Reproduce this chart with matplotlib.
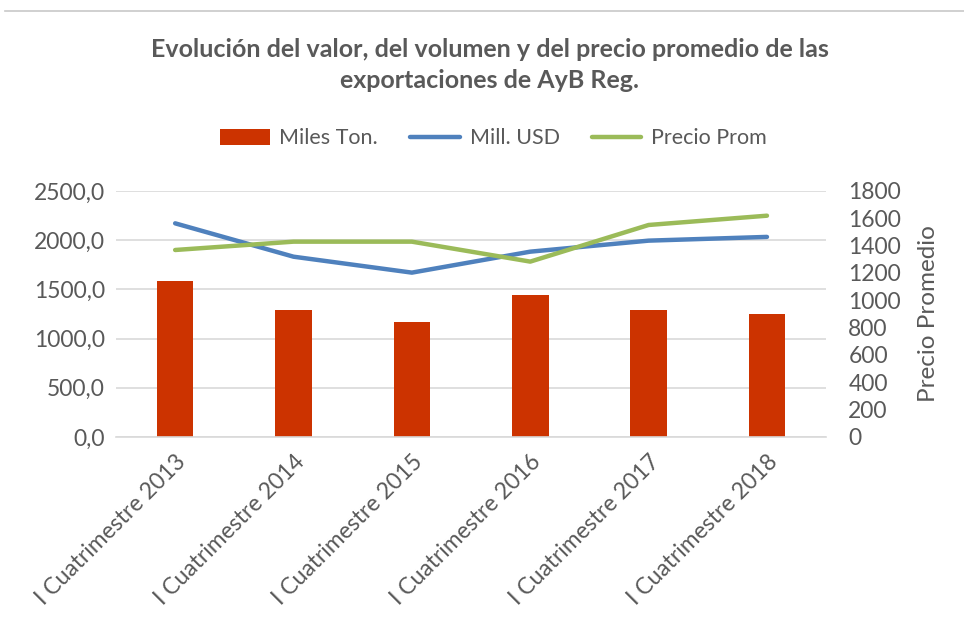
import matplotlib.pyplot as plt
from matplotlib.lines import Line2D
from matplotlib.ticker import FuncFormatter

categorias = ['I Cuatrimestre 2013', 'I Cuatrimestre 2014', 'I Cuatrimestre 2015',
              'I Cuatrimestre 2016', 'I Cuatrimestre 2017', 'I Cuatrimestre 2018']
miles_ton = [1588, 1287, 1172, 1443, 1287, 1247]
mill_usd = [2171, 1832, 1670, 1883, 1995, 2033]
precio_prom = [1368, 1429, 1429, 1283, 1551, 1619]

plt.rcParams['font.family'] = ['Lato', 'DejaVu Sans']
gris = '#595959'

fig = plt.figure(figsize=(9.64, 6.23), dpi=100)
ax = fig.add_axes([0.1203, 0.2986, 0.7367, 0.3949])
ax2 = ax.twinx()

x = list(range(len(categorias)))
barras = ax.bar(x, miles_ton, width=0.31, color='#CC3300', label='Miles Ton.', zorder=2)
l_usd, = ax.plot(x, mill_usd, color='#4F81BD', lw=3.2, label='Mill. USD', zorder=3,
                 solid_capstyle='round')
l_precio, = ax2.plot(x, precio_prom, color='#9BBB59', lw=3.2, label='Precio Prom', zorder=3,
                     solid_capstyle='round')

ax.set_xlim(-0.5, 5.5)
ax.set_ylim(0, 2500)
ax.set_yticks([0, 500, 1000, 1500, 2000, 2500])
ax.yaxis.set_major_formatter(FuncFormatter(lambda v, p: f'{v:.1f}'.replace('.', ',')))
ax2.set_ylim(0, 1800)
ax2.set_yticks(range(0, 1801, 200))

ax.grid(axis='y', color='#d9d9d9', lw=1.2, zorder=0)
ax.set_axisbelow(True)
for a in (ax, ax2):
    for s in a.spines.values():
        s.set_visible(False)
    a.tick_params(length=0, colors=gris, labelsize=16.5)
ax.spines['bottom'].set_visible(True)
ax.spines['bottom'].set_color('#d9d9d9')
ax.spines['bottom'].set_linewidth(1.2)

ax.set_xticks(x)
ax.set_xticklabels(categorias, rotation=45, ha='right', rotation_mode='anchor',
                   fontsize=16.5, color=gris)
ax.tick_params(axis='x', pad=10)
ax.tick_params(axis='y', pad=8)
ax2.tick_params(axis='y', pad=16)
ax2.set_ylabel('Precio Promedio', color=gris, fontsize=17.5, labelpad=12)

fig.text(0.508, 0.895, 'Evolución del valor, del volumen y del precio promedio de las\nexportaciones de AyB Reg.',
         ha='center', va='center', fontsize=18, fontweight='bold', color=gris,
         linespacing=1.42)

fig.legend([barras, l_usd, l_precio], ['Miles Ton.', 'Mill. USD', 'Precio Prom'],
           loc='center', bbox_to_anchor=(0.512, 0.778), ncol=3,
           frameon=False, fontsize=15.5, labelcolor=gris, handlelength=2.3,
           handleheight=0.75, handletextpad=0.45, columnspacing=1.5)

fig.add_artist(Line2D([0.005, 1.0], [0.982, 0.982], color='#c8c8c8', lw=1.2))

fig.savefig('out.png', dpi=100)
